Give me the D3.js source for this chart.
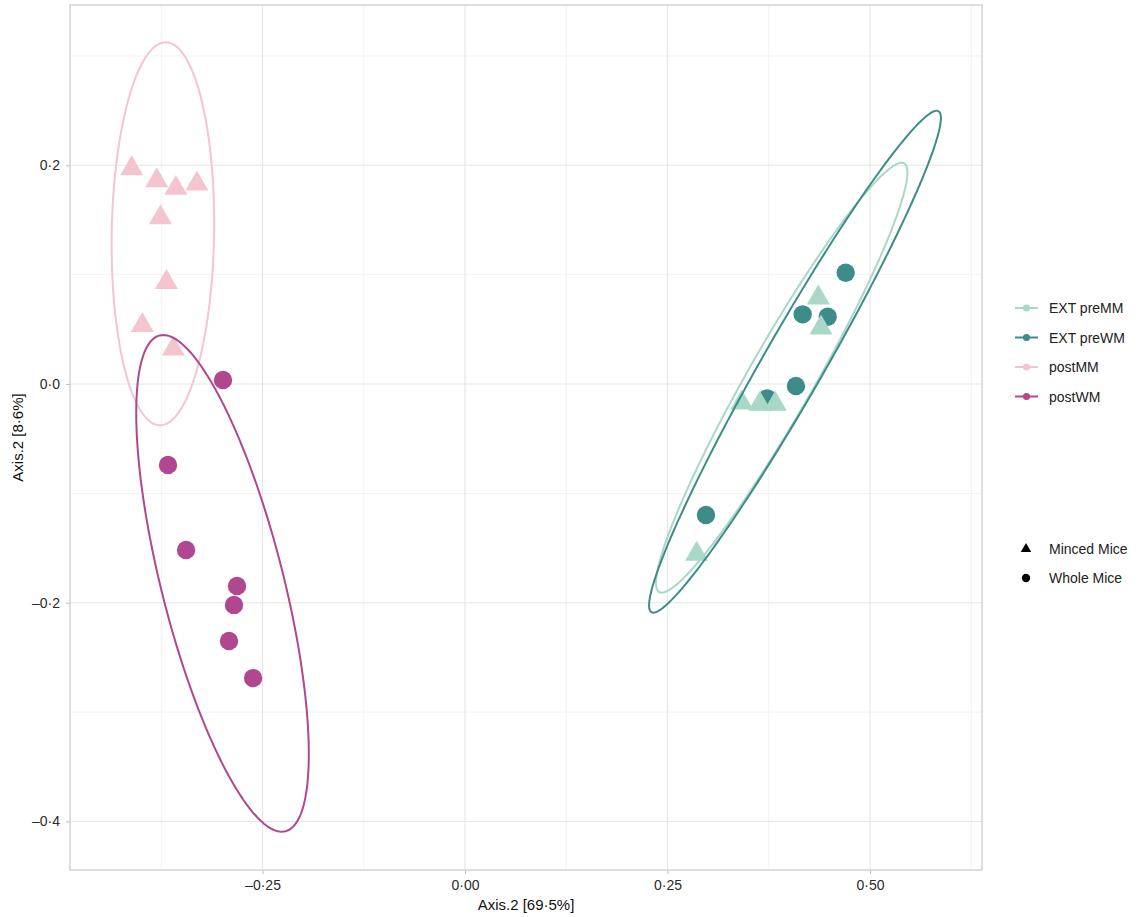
<!DOCTYPE html>
<html>
<head>
<meta charset="utf-8">
<script src="https://cdn.jsdelivr.net/npm/d3@7"></script>
<style>
  body { margin: 0; background: #fff; }
  svg text { font-family: "Liberation Sans", Arial, sans-serif; }
</style>
</head>
<body>
<div id="chart"></div>
<script>
const width = 1139;
const height = 917;
const margin = {top: 5, right: 157, bottom: 47, left: 70};

// groups and legend
const groups = ['EXT preMM', 'EXT preWM', 'postMM', 'postWM'];
const groupColors = ['#a9d7c8', '#3e8c87', '#f5c5cf', '#b0478f'];
const shapeLabels = ['Minced Mice', 'Whole Mice'];

// points: [axis1, axis2]
const extPreMM = [[0.4362, 0.0798], [0.4395, 0.0524], [0.3416, -0.0162], [0.364, -0.0174],
  [0.383, -0.0174], [0.286, -0.1545]];
const extPreWM = [[0.470, 0.1018], [0.4169, 0.0637], [0.4478, 0.0615], [0.4086, -0.0018],
  [0.3732, -0.0131], [0.2975, -0.1198]];
const postMM = [[-0.4115, 0.198], [-0.3806, 0.187], [-0.357, 0.180], [-0.331, 0.184],
  [-0.376, 0.153], [-0.3686, 0.094], [-0.3984, 0.0546], [-0.360, 0.033]];
const postWM = [[-0.2988, 0.0037], [-0.3667, -0.074], [-0.3444, -0.1518], [-0.2815, -0.1847],
  [-0.2852, -0.202], [-0.2914, -0.235], [-0.2617, -0.2689]];

// ellipses: centre, conjugate half-diameters u and v (data units)
const ellipseCentres = [[0.391, 0.0058], [0.4074, 0.0204], [-0.3730, 0.1374], [-0.2994, -0.1823]];
const ellipseU = [[0.1481, 0.1966], [0.1749, 0.2295], [0.0035, 0.1751], [-0.0731, 0.2271]];
const ellipseV = [[0.0465, 0], [0.0432, 0], [0.0632, 0], [0.0775, 0]];

const xTicks = [-0.25, 0, 0.25, 0.5];
const xMinor = [-0.375, -0.125, 0.125, 0.375, 0.625];
const yTicks = [-0.4, -0.2, 0, 0.2];
const yMinor = [-0.3, -0.1, 0.1, 0.3];

const svg = d3.select('#chart').append('svg').attr('width', width).attr('height', height);

const x = d3.scaleLinear().domain([-0.4877, 0.6383]).range([margin.left, width - margin.right]);
const y = d3.scaleLinear().domain([-0.4444, 0.3466]).range([height - margin.bottom, margin.top]);

const fmt = (d, n) => d.toFixed(n).replace('.', '\u00b7').replace('-', '\u2013');

// grid
const grid = svg.append('g');
grid.selectAll('.xminor').data(xMinor).enter().append('line')
  .attr('x1', (d) => x(d)).attr('x2', (d) => x(d))
  .attr('y1', y.range()[0]).attr('y2', y.range()[1])
  .style('stroke', '#f2f2f2').style('stroke-width', 1);
grid.selectAll('.yminor').data(yMinor).enter().append('line')
  .attr('y1', (d) => y(d)).attr('y2', (d) => y(d))
  .attr('x1', x.range()[0]).attr('x2', x.range()[1])
  .style('stroke', '#f2f2f2').style('stroke-width', 1);
grid.selectAll('.xmajor').data(xTicks).enter().append('line')
  .attr('x1', (d) => x(d)).attr('x2', (d) => x(d))
  .attr('y1', y.range()[0]).attr('y2', y.range()[1])
  .style('stroke', '#e6e6e6').style('stroke-width', 1.1);
grid.selectAll('.ymajor').data(yTicks).enter().append('line')
  .attr('y1', (d) => y(d)).attr('y2', (d) => y(d))
  .attr('x1', x.range()[0]).attr('x2', x.range()[1])
  .style('stroke', '#e6e6e6').style('stroke-width', 1.1);

// axes
const xAxis = svg.append('g')
  .attr('transform', `translate(0,${height - margin.bottom})`)
  .call(d3.axisBottom(x).tickValues(xTicks).tickSize(4).tickPadding(6).tickFormat((d) => fmt(d, 2)));
const yAxis = svg.append('g')
  .attr('transform', `translate(${margin.left},0)`)
  .call(d3.axisLeft(y).tickValues(yTicks).tickSize(4).tickPadding(6).tickFormat((d) => fmt(d, 1)));
[xAxis, yAxis].forEach((a) => {
  a.select('.domain').remove();
  a.selectAll('line').style('stroke', '#bdbdbd');
  a.selectAll('text').style('font-size', '14px').style('fill', '#2a2a2a');
});

// panel border
svg.append('rect')
  .attr('x', margin.left).attr('y', margin.top)
  .attr('width', width - margin.left - margin.right)
  .attr('height', height - margin.top - margin.bottom)
  .style('fill', 'none').style('stroke', '#d0d0d0').style('stroke-width', 1.4);

// axis titles
svg.append('text')
  .attr('x', (x.range()[0] + x.range()[1]) / 2).attr('y', 910)
  .attr('text-anchor', 'middle').style('font-size', '15px').style('fill', '#111')
  .text('Axis.2 [69\u00b75%]');
svg.append('text')
  .attr('transform', `translate(23,${(y.range()[0] + y.range()[1]) / 2}) rotate(-90)`)
  .attr('text-anchor', 'middle').style('font-size', '15px').style('fill', '#111')
  .text('Axis.2 [8\u00b76%]');

// points
const tri = d3.symbol().type(d3.symbolTriangle).size(230);
const circles = [[extPreWM, 1], [postWM, 3]];
const triangles = [[extPreMM, 0], [postMM, 2]];
const plot = svg.append('g');
circles.forEach(([pts, gi]) => {
  plot.append('g').selectAll('circle').data(pts).enter().append('circle')
    .attr('cx', (d) => x(d[0])).attr('cy', (d) => y(d[1]))
    .attr('r', 9.2)
    .style('fill', groupColors[gi]);
});
triangles.forEach(([pts, gi]) => {
  plot.append('g').selectAll('path').data(pts).enter().append('path')
    .attr('d', tri)
    .attr('transform', (d) => `translate(${x(d[0])},${y(d[1]) + 1})`)
    .style('fill', groupColors[gi]);
});

// ellipses
const line = d3.line().x((d) => x(d[0])).y((d) => y(d[1]));
groups.forEach((g, i) => {
  const c = ellipseCentres[i]; const u = ellipseU[i]; const v = ellipseV[i];
  const pts = d3.range(0, 201).map((k) => {
    const t = k / 200 * 2 * Math.PI;
    return [c[0] + u[0] * Math.cos(t) + v[0] * Math.sin(t),
      c[1] + u[1] * Math.cos(t) + v[1] * Math.sin(t)];
  });
  svg.append('path').datum(pts).attr('d', line)
    .style('fill', 'none').style('stroke', groupColors[i]).style('stroke-width', 2);
});

// legend: colour
const leg = svg.append('g');
groups.forEach((g, i) => {
  const ly = 308 + i * 29.5;
  leg.append('line').attr('x1', 1015).attr('x2', 1038).attr('y1', ly).attr('y2', ly)
    .style('stroke', groupColors[i]).style('stroke-width', 2);
  leg.append('circle').attr('cx', 1026.5).attr('cy', ly).attr('r', 3.6).style('fill', groupColors[i]);
  leg.append('text').attr('x', 1049).attr('y', ly + 5).style('font-size', '14px').style('fill', '#222').text(g);
});

// legend: shape
const shapeSym = [d3.symbol().type(d3.symbolTriangle).size(48), d3.symbol().type(d3.symbolCircle).size(55)];
shapeLabels.forEach((s, i) => {
  const ly = 549 + i * 29;
  leg.append('path').attr('d', shapeSym[i]).attr('transform', `translate(1026,${ly})`).style('fill', '#000');
  leg.append('text').attr('x', 1049).attr('y', ly + 5).style('font-size', '14px').style('fill', '#222').text(s);
});
</script>
</body>
</html>
